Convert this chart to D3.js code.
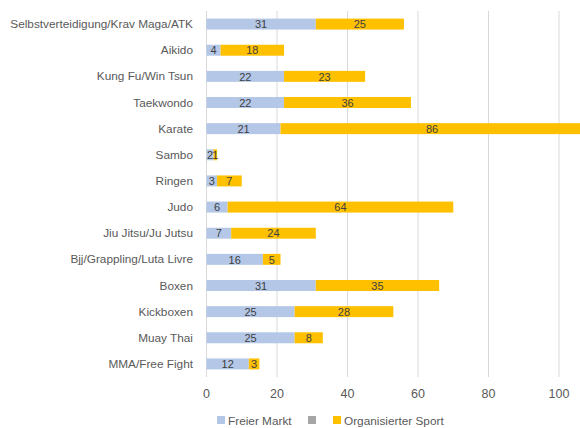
<!DOCTYPE html>
<html>
<head>
<meta charset="utf-8">
<script src="https://cdn.jsdelivr.net/npm/d3@7"></script>
<style>
  body { margin: 0; background: #fff; }
  svg { display: block; font-family: "Liberation Sans", Arial, sans-serif; }
</style>
</head>
<body>
<svg id="chart" width="580" height="428"></svg>
<script>
  // categories, top to bottom
  var categories = ['Selbstverteidigung/Krav Maga/ATK', 'Aikido', 'Kung Fu/Win Tsun',
    'Taekwondo', 'Karate', 'Sambo', 'Ringen', 'Judo', 'Jiu Jitsu/Ju Jutsu',
    'Bjj/Grappling/Luta Livre', 'Boxen', 'Kickboxen', 'Muay Thai', 'MMA/Free Fight'];
  var freierMarkt = [31, 4, 22, 22, 21, 2, 3, 6, 7, 16, 31, 25, 25, 12];
  var organisiert = [25, 18, 23, 36, 86, 1, 7, 64, 24, 5, 35, 28, 8, 3];
  var xTicks = [0, 20, 40, 60, 80, 100, 120];
  var seriesNames = ['Freier Markt', 'Organisierter Sport'];
  var seriesColors = ['#b4c7e7', '#ffc000'];

  (function () {
    var svg = d3.select('#chart'),
        left = 206.5,
        plotTop = 11,
        plotBottom = 377;

    var x = d3.scaleLinear().domain([0, 120]).range([left, left + 120 * 3.525]);
    var y = d3.scaleBand().domain(categories).range([plotTop, plotBottom])
        .paddingInner(0.58).paddingOuter(0.29);

    // gridlines
    svg.append('g').selectAll('line')
        .data(xTicks)
        .enter().append('line')
        .attr('x1', function (d) { return x(d); })
        .attr('x2', function (d) { return x(d); })
        .attr('y1', plotTop)
        .attr('y2', plotBottom)
        .style('stroke', '#d9d9d9')
        .style('stroke-width', 1);

    // tick labels (the 120 one sits outside the window)
    svg.append('g').selectAll('text')
        .data(xTicks.filter(function (d) { return x(d) < 580; }))
        .enter().append('text')
        .attr('x', function (d) { return x(d); })
        .attr('y', 398)
        .attr('text-anchor', 'middle')
        .style('font-size', '12.5px')
        .style('fill', '#595959')
        .text(function (d) { return d; });

    // category labels
    svg.append('g').selectAll('text')
        .data(categories)
        .enter().append('text')
        .attr('x', 193)
        .attr('y', function (d) { return y(d) + y.bandwidth() / 2; })
        .attr('dy', '0.35em')
        .attr('text-anchor', 'end')
        .style('font-size', '11.8px')
        .style('fill', '#595959')
        .text(function (d) { return d; });

    var rows = categories.map(function (c, i) {
      return { cat: c, segs: [
        { cat: c, x0: 0, x1: freierMarkt[i], v: freierMarkt[i], s: 0 },
        { cat: c, x0: freierMarkt[i], x1: freierMarkt[i] + organisiert[i], v: organisiert[i], s: 1 }
      ] };
    });

    var row = svg.append('g').selectAll('g')
        .data(rows)
        .enter().append('g');

    row.selectAll('rect')
        .data(function (d) { return d.segs; })
        .enter().append('rect')
        .attr('x', function (d) { return x(d.x0); })
        .attr('y', function (d) { return y(d.cat); })
        .attr('width', function (d) { return x(d.x1) - x(d.x0); })
        .attr('height', y.bandwidth())
        .style('fill', function (d) { return seriesColors[d.s]; });

    row.selectAll('text')
        .data(function (d) { return d.segs; })
        .enter().append('text')
        .attr('x', function (d) { return x((d.x0 + d.x1) / 2); })
        .attr('y', function (d) { return y(d.cat) + y.bandwidth() / 2; })
        .attr('dy', '0.38em')
        .attr('text-anchor', 'middle')
        .style('font-size', '11px')
        .style('fill', '#404040')
        .text(function (d) { return d.v; });

    // legend
    var legend = [
      { name: seriesNames[0], color: seriesColors[0], x: 217 },
      { name: '', color: '#a5a5a5', x: 308 },
      { name: seriesNames[1], color: seriesColors[1], x: 333 }
    ];
    var lg = svg.append('g').selectAll('g')
        .data(legend)
        .enter().append('g')
        .attr('transform', function (d) { return 'translate(' + d.x + ',416)'; });
    lg.append('rect')
        .attr('width', 8)
        .attr('height', 8)
        .style('fill', function (d) { return d.color; });
    lg.append('text')
        .attr('x', 11)
        .attr('y', 8.5)
        .style('font-size', '11.8px')
        .style('fill', '#595959')
        .text(function (d) { return d.name; });
  })();
</script>
</body>
</html>
